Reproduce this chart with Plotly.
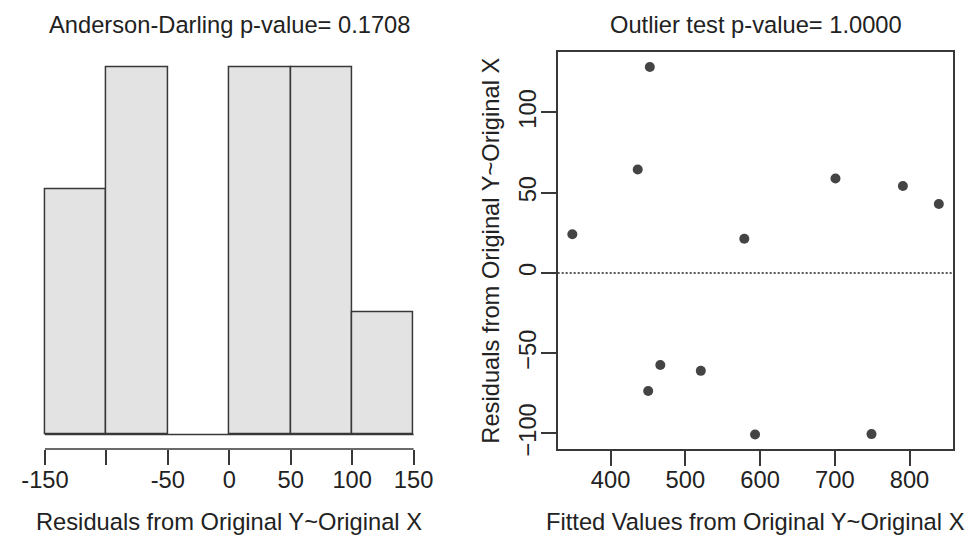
import numpy as np
import plotly.graph_objects as go

# ---- data ----
fitted = [348.8, 436.3, 452.5, 450.3, 466.5, 520.7, 578.9, 593.3, 700.9, 749.1, 791.1, 839.2]
residuals = [24.1, 64.5, 128.3, -73.5, -57.4, -61.0, 21.3, -100.6, 58.8, -100.4, 54.2, 42.9]
bin_start, bin_end, bin_size = -150, 150, 50
hist_tickvals = [-150, -100, -50, 0, 50, 100, 150]
hist_ticktext = ["-150", "", "-50", "0", "50", "100", "150"]
sc_xtickvals = [400, 500, 600, 700, 800]
sc_ytickvals = [-100, -50, 0, 50, 100]
title_left = "Anderson-Darling p-value= 0.1708"
title_right = "Outlier test p-value= 1.0000"
xlab_left = "Residuals from Original Y~Original X"
xlab_right = "Fitted Values from Original Y~Original X"
ylab_right = "Residuals from Original Y~Original X"

W, H = 972, 542
FONT = "Liberation Sans, Arial, sans-serif"
FS = 23.7
TXT = "#222222"
LINE = "#383838"

counts, _ = np.histogram(residuals, bins=np.arange(bin_start, bin_end + bin_size, bin_size))
cmax = counts.max()

def expand(lo, hi, f=0.04):
    d = (hi - lo) * f
    return [lo - d, hi + d]

fig = go.Figure()
fig.add_trace(go.Histogram(
    x=residuals, xbins=dict(start=bin_start, end=bin_end, size=bin_size),
    marker=dict(color="#E3E3E3", line=dict(color=LINE, width=1.5)),
    xaxis="x", yaxis="y", hoverinfo="skip"))
fig.add_trace(go.Scatter(
    x=fitted, y=residuals, mode="markers",
    marker=dict(color="#444444", size=10),
    xaxis="x2", yaxis="y2", hoverinfo="skip"))

ydom = [(H - 455) / H, (H - 53) / H]
axfont = dict(family=FONT, size=FS, color=TXT)
fig.update_layout(
    width=W, height=H, margin=dict(l=0, r=0, t=0, b=0),
    paper_bgcolor="white", plot_bgcolor="white", showlegend=False,
    bargap=0,
    font=dict(family=FONT, size=FS, color=TXT),
    xaxis=dict(domain=[21.5 / W, 425.5 / W], range=expand(bin_start, bin_end),
               tickvals=hist_tickvals, ticktext=hist_ticktext,
               ticks="outside", ticklen=15, tickwidth=1.5, tickcolor=LINE,
               ticklabelstandoff=-6,
               showline=False, showgrid=False, zeroline=False, tickfont=axfont,
               anchor="y"),
    yaxis=dict(domain=ydom, range=expand(0, cmax), visible=False, anchor="x"),
    xaxis2=dict(domain=[556.7 / W, 958.3 / W], range=expand(min(fitted), max(fitted)),
                tickvals=sc_xtickvals, ticks="outside", ticklen=15, tickwidth=1.5,
                ticklabelstandoff=-6,
                tickcolor=LINE, showline=True, linecolor=LINE, linewidth=1.5, mirror=True,
                showgrid=False, zeroline=False, tickfont=axfont, anchor="y2"),
    yaxis2=dict(domain=ydom, range=expand(min(residuals), max(residuals)),
                tickvals=sc_ytickvals, ticks="outside", ticklen=15, tickwidth=1.5,
                ticklabelstandoff=-5,
                tickcolor=LINE, showline=True, linecolor=LINE, linewidth=1.5, mirror=True,
                showgrid=False, zeroline=False, tickfont=axfont, tickangle=-90,
                anchor="x2"),
)

# histogram axis line spanning bin range, and zero baseline of bars
fig.add_shape(type="line", xref="x", yref="y domain", x0=bin_start, x1=bin_end, y0=0, y1=0,
              line=dict(color=LINE, width=1.5))
fig.add_shape(type="line", xref="x", yref="y", x0=bin_start, x1=bin_end, y0=0, y1=0,
              line=dict(color=LINE, width=1.5))
# dotted zero line in scatter
fig.add_shape(type="line", xref="x2 domain", yref="y2", x0=0, x1=1, y0=0, y1=0,
              line=dict(color="#222222", width=1.5, dash="2px,2px"))

def ann(text, x, y, angle=0):
    fig.add_annotation(text=text, x=x, y=y, xref="paper", yref="paper",
                       xanchor="center", yanchor="middle", showarrow=False,
                       textangle=angle, font=dict(family=FONT, size=FS, color=TXT))

ann(title_left, 223.5 / W, (H - 25) / H)
ann(title_right, 757.5 / W, (H - 25) / H)
ann(xlab_left, 223.5 / W, (H - 529) / H)
ann(xlab_right, 757.5 / W, (H - 529) / H)
ann(ylab_right, 489 / W, (H - 254) / H, angle=-90)

fig.write_html("out.html")
